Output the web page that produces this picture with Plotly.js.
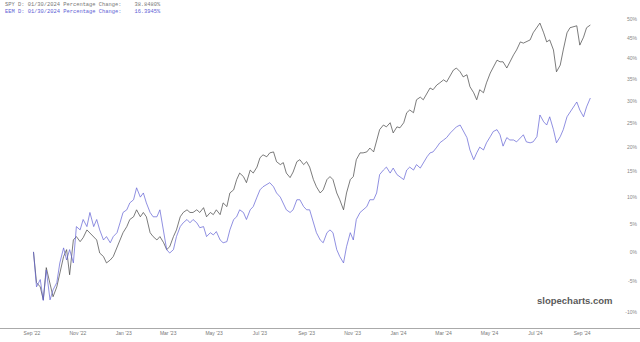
<!DOCTYPE html>
<html>
<head>
<meta charset="utf-8">
<script src="https://cdn.plot.ly/plotly-3.0.1.min.js"></script>
<style>html,body{margin:0;padding:0;background:#fff;}#chart{width:640px;height:342px;}</style>
</head>
<body>
<div id="chart"></div>
<script>
const dates = [
"2022-09-03","2022-09-07","2022-09-12","2022-09-16","2022-09-20","2022-09-25","2022-09-29","2022-10-04","2022-10-08","2022-10-13",
"2022-10-17","2022-10-21","2022-10-26","2022-10-30","2022-11-04","2022-11-08","2022-11-13","2022-11-17","2022-11-22","2022-11-26",
"2022-11-30","2022-12-05","2022-12-09","2022-12-14","2022-12-18","2022-12-23","2022-12-27","2022-12-31","2023-01-05","2023-01-09",
"2023-01-14","2023-01-18","2023-01-23","2023-01-27","2023-01-31","2023-02-05","2023-02-09","2023-02-14","2023-02-18","2023-02-23",
"2023-02-27","2023-03-03","2023-03-08","2023-03-12","2023-03-17","2023-03-21","2023-03-26","2023-03-30","2023-04-03","2023-04-08",
"2023-04-12","2023-04-17","2023-04-21","2023-04-26","2023-04-30","2023-05-04","2023-05-09","2023-05-13","2023-05-18","2023-05-22",
"2023-05-27","2023-05-31","2023-06-04","2023-06-09","2023-06-13","2023-06-18","2023-06-22","2023-06-27","2023-07-01","2023-07-05",
"2023-07-10","2023-07-14","2023-07-19","2023-07-23","2023-07-28","2023-08-01","2023-08-05","2023-08-10","2023-08-14","2023-08-19",
"2023-08-23","2023-08-28","2023-09-01","2023-09-05","2023-09-10","2023-09-14","2023-09-19","2023-09-23","2023-09-28","2023-10-02",
"2023-10-06","2023-10-11","2023-10-15","2023-10-20","2023-10-24","2023-10-29","2023-11-02","2023-11-06","2023-11-11","2023-11-15",
"2023-11-20","2023-11-24","2023-11-29","2023-12-03","2023-12-07","2023-12-12","2023-12-16","2023-12-21","2023-12-25","2023-12-30",
"2024-01-03","2024-01-08","2024-01-12","2024-01-16","2024-01-21","2024-01-25","2024-01-30","2024-02-03","2024-02-08","2024-02-12",
"2024-02-16","2024-02-21","2024-02-25","2024-03-01","2024-03-05","2024-03-10","2024-03-14","2024-03-18","2024-03-23","2024-03-27",
"2024-04-01","2024-04-05","2024-04-10","2024-04-14","2024-04-18","2024-04-23","2024-04-27","2024-05-02","2024-05-06","2024-05-11",
"2024-05-15","2024-05-19","2024-05-24","2024-05-28","2024-06-02","2024-06-06","2024-06-11","2024-06-15","2024-06-19","2024-06-24",
"2024-06-28","2024-07-03","2024-07-07","2024-07-12","2024-07-16","2024-07-20","2024-07-25","2024-07-29","2024-08-03","2024-08-07",
"2024-08-12","2024-08-16","2024-08-20","2024-08-25","2024-08-29","2024-09-03","2024-09-07","2024-09-12"
];

// Percentage change of SPY (black line)
const spyPct = [
0,-5.2,-5.9,-8.0,-2.7,-5.2,-7.5,-5.9,-3.6,-0.8,
0.4,-3.9,2.1,2.7,1.8,2.5,3.9,3.4,2.7,2.1,
-0.2,-0.8,-1.9,-1.4,-0.8,0.9,2.1,3.4,4.5,5.8,
6.3,7.6,6.3,7.1,6.3,3.4,2.7,2.1,2.7,1.6,
0.4,0.9,2.7,3.9,6.3,7.1,7.6,7.1,7.1,7.6,
7.1,8.0,6.3,7.1,6.7,7.6,6.7,8.9,8.2,10.8,
11.4,13.4,14.7,14.0,12.8,15.3,14.7,15.9,17.8,18.4,
18.0,18.8,19.0,17.0,16.4,16.8,14.7,13.8,14.9,17.0,
17.4,16.4,17.0,15.9,13.4,12.0,10.8,11.4,13.4,14.0,
13.4,10.8,9.5,7.6,10.8,13.4,14.0,17.4,18.8,18.8,
19.0,19.8,19.0,21.5,23.7,24.7,24.3,25.2,23.0,24.3,
24.1,25.2,27.4,28.0,27.4,30.3,30.9,30.3,31.9,33.0,
32.6,33.7,34.2,34.9,34.4,36.1,37.2,37.7,36.8,35.6,
36.1,33.3,31.9,30.3,32.6,31.9,34.2,36.5,38.0,39.6,
39.2,39.2,37.7,39.2,40.9,42.1,44.1,43.8,44.1,44.6,
46.4,47.7,48.9,46.4,44.1,44.6,42.1,36.8,38.4,42.1,
46.4,47.7,47.9,48.2,43.3,45.3,47.7,48.4
];

// Percentage change of EEM (blue line)
const eemPct = [
0,-5.9,-4.7,-8.1,-3.1,-8.0,-6.4,-5.2,-1.9,0.7,
-1.4,0.4,-1.9,4.5,3.9,5.8,4.5,7.1,4.5,5.8,
3.9,2.1,2.7,1.6,2.7,3.4,5.2,7.1,7.6,8.9,
9.5,11.8,10.0,10.8,8.9,7.1,6.3,6.3,7.6,3.9,
0.4,-0.2,0.4,2.7,4.5,5.2,5.8,5.2,5.8,5.2,
4.3,4.5,2.7,3.4,3.0,3.6,2.1,1.6,1.8,3.9,
5.8,6.3,7.6,7.1,5.8,7.6,8.2,10.0,11.4,12.0,
12.4,12.8,12.0,10.8,10.0,8.9,7.6,7.1,7.6,9.5,
9.5,8.2,7.6,7.6,5.2,3.4,2.1,1.6,3.4,3.9,
3.4,0.4,-0.8,-1.9,0.9,3.4,2.1,5.8,7.1,7.6,
8.2,9.5,9.5,10.8,14.4,15.3,15.9,14.7,15.7,14.4,
14.0,13.4,15.3,15.9,15.3,16.4,15.7,16.8,18.0,18.8,
19.0,20.0,20.9,21.5,22.0,23.0,23.7,24.3,24.7,23.5,
22.0,19.4,17.4,18.8,20.0,19.4,20.9,22.2,23.3,23.7,
22.6,20.2,22.0,21.5,21.5,21.1,22.0,22.6,21.1,20.9,
21.1,22.2,26.9,25.4,24.7,26.5,23.7,20.9,22.2,23.7,
26.5,27.6,28.7,29.8,28.0,26.5,28.7,30.7
];

const yTickPct = [-10,-5,0,5,10,15,20,25,30,35,40,45,50];
const yTickText = ["-10%","-5%","0%","5%","10%","15%","20%","25%","30%","35%","40%","45%","50%"];
const xTickDates = ["2022-09-01","2022-11-01","2023-01-01","2023-03-01","2023-05-01","2023-07-01","2023-09-01","2023-11-01","2024-01-01","2024-03-01","2024-05-01","2024-07-01","2024-09-01"];
const xTickText = ["Sep '22","Nov '22","Jan '23","Mar '23","May '23","Jul '23","Sep '23","Nov '23","Jan '24","Mar '24","May '24","Jul '24","Sep '24"];
const headerSpy = "SPY D: 01/30/2024 Percentage Change:    38.8480%";
const headerEem = "EEM D: 01/30/2024 Percentage Change:    16.3945%";

const toRatio = v => 1 + v / 100;

const traces = [
  {x: dates, y: spyPct.map(toRatio), type: 'scatter', mode: 'lines',
   line: {color: '#444444', width: 0.7}, hoverinfo: 'skip'},
  {x: dates, y: eemPct.map(toRatio), type: 'scatter', mode: 'lines',
   line: {color: '#6060d4', width: 0.7}, hoverinfo: 'skip'}
];

const layout = {
  width: 640, height: 342,
  margin: {l: 0, r: 0, t: 0, b: 14, pad: 0},
  paper_bgcolor: '#ffffff', plot_bgcolor: '#ffffff',
  showlegend: false,
  xaxis: {
    type: 'date', range: ['2022-07-20 12:00', '2024-11-17'],
    showgrid: false, zeroline: false, showline: true, linecolor: '#aaaaaa', linewidth: 1,
    ticks: '', tickvals: xTickDates, ticktext: xTickText,
    tickfont: {family: 'Liberation Sans, Arial, sans-serif', size: 5, color: '#777777'}
  },
  yaxis: {
    type: 'log', range: [Math.log10(0.876), Math.log10(1.55)],
    side: 'right', ticklabelposition: 'inside',
    showgrid: false, zeroline: false, showline: false, ticks: '',
    tickvals: yTickPct.map(toRatio), ticktext: yTickText,
    tickfont: {family: 'Liberation Sans, Arial, sans-serif', size: 5, color: '#888888'}
  },
  annotations: [
    {xref: 'paper', yref: 'paper', x: 0.005, y: 1 - 5/328, xanchor: 'left', yanchor: 'middle',
     text: headerSpy, showarrow: false,
     font: {family: 'Liberation Mono, Courier New, monospace', size: 5.4, color: '#777777'}},
    {xref: 'paper', yref: 'paper', x: 0.005, y: 1 - 12/328, xanchor: 'left', yanchor: 'middle',
     text: headerEem, showarrow: false,
     font: {family: 'Liberation Mono, Courier New, monospace', size: 5.4, color: '#6060d4'}},
    {xref: 'paper', yref: 'paper', x: 575/640, y: 1 - 300/328, xanchor: 'center', yanchor: 'middle',
     text: '<b>slopecharts.com</b>', showarrow: false,
     font: {family: 'Liberation Sans, Arial, sans-serif', size: 9.5, color: '#5a5a5a'}}
  ]
};

Plotly.newPlot('chart', traces, layout, {staticPlot: true, displayModeBar: false});
</script>
</body>
</html>
